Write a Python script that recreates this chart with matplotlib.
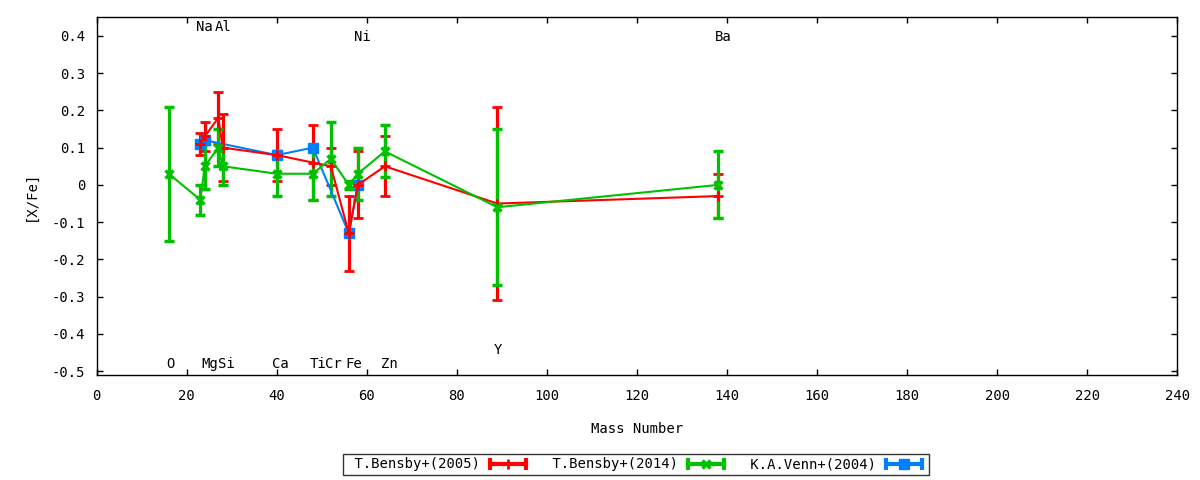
import matplotlib
matplotlib.use("Agg")
import matplotlib.pyplot as plt
from matplotlib.lines import Line2D
from matplotlib.legend_handler import HandlerLine2D, HandlerTuple

plt.rcParams["font.family"] = "DejaVu Sans Mono"
plt.rcParams["font.size"] = 10
plt.rcParams["axes.unicode_minus"] = False

# T.Bensby+(2005)
b05_mass = [23, 24, 27, 28, 40, 48, 52, 56, 58, 64, 89, 138]
b05_val = [0.11, 0.13, 0.18, 0.10, 0.08, 0.06, 0.05, -0.13, 0.00, 0.05, -0.05, -0.03]
b05_err = [0.03, 0.04, 0.07, 0.09, 0.07, 0.10, 0.05, 0.10, 0.09, 0.08, 0.26, 0.06]

# T.Bensby+(2014)
b14_mass = [16, 23, 24, 27, 28, 40, 48, 52, 56, 58, 64, 89, 138]
b14_val = [0.03, -0.04, 0.05, 0.10, 0.05, 0.03, 0.03, 0.07, 0.00, 0.03, 0.09, -0.06, 0.00]
b14_err = [0.18, 0.04, 0.06, 0.05, 0.05, 0.06, 0.07, 0.10, 0.01, 0.07, 0.07, 0.21, 0.09]

# K.A.Venn+(2004)
v04_mass = [23, 24, 40, 48, 56, 58]
v04_val = [0.11, 0.12, 0.08, 0.10, -0.13, 0.00]

# element labels (name, x, y)
top_labels = [("Na", 24.0, 0.424), ("Al", 28.0, 0.424), ("Ni", 59.1, 0.396), ("Ba", 139.1, 0.396)]
bottom_labels = [("O", 16.3, -0.48), ("Mg", 25.2, -0.48), ("Si", 28.9, -0.48),
                 ("Ca", 40.8, -0.48), ("Ti", 49.1, -0.48), ("Cr", 52.5, -0.48),
                 ("Fe", 57.0, -0.48), ("Zn", 65.0, -0.48), ("Y", 89.2, -0.443)]

RED = "#ff0000"
GREEN = "#00c000"
BLUE = "#0080ff"

fig = plt.figure(figsize=(12, 4.8), dpi=100)
ax = fig.add_axes([0.0806, 0.219, 0.9004, 0.745])

err_kw = dict(elinewidth=2.3, capsize=3.3, capthick=2.3, lw=1.5)
ax.errorbar(b05_mass, b05_val, yerr=b05_err, color=RED, marker="+", ms=7, mew=2, **err_kw)
ax.errorbar(b14_mass, b14_val, yerr=b14_err, color=GREEN, marker="x", ms=6, mew=2.5, **err_kw)
ax.plot(v04_mass, v04_val, color=BLUE, marker="s", ms=6.5, lw=1.5)

for name, x, y in top_labels + bottom_labels:
    ax.text(x, y, name, ha="center", va="center")

ax.set_xlim(0, 240)
ax.set_ylim(-0.51, 0.45)
ax.set_xticks(range(0, 241, 20))
ax.set_yticks([0.4, 0.3, 0.2, 0.1, 0, -0.1, -0.2, -0.3, -0.4, -0.5])
ax.yaxis.set_major_formatter(plt.FormatStrFormatter("%g"))
ax.tick_params(direction="in", top=True, right=True, length=4.5, width=1)
ax.tick_params(axis="x", pad=10)
ax.tick_params(axis="y", pad=8)
for sp in ax.spines.values():
    sp.set_linewidth(1)

ax.set_xlabel("Mass Number", labelpad=14)
ax.set_ylabel("[X/Fe]", labelpad=10)

# gnuplot-like legend samples: horizontal bar with end caps and centre marker
handles = []
hmap = {tuple: HandlerTuple(ndivide=1, pad=0)}
for col, mk, ms, mew in [(RED, "+", 7, 2), (GREEN, "x", 6, 2.5), (BLUE, "s", 6.5, 1)]:
    bar = Line2D([], [], color=col, lw=3, marker="|", ms=9, mew=3)
    mid = Line2D([], [], color=col, ls="none", marker=mk, ms=ms, mew=mew)
    hmap[bar] = HandlerLine2D(numpoints=2)
    hmap[mid] = HandlerLine2D(numpoints=1)
    handles.append((bar, mid))

labels = [" T.Bensby+(2005)", " T.Bensby+(2014)", " K.A.Venn+(2004)"]
leg = fig.legend(handles, labels, handler_map=hmap,
                 loc="center", bbox_to_anchor=(0.53, 0.0323), ncol=3, markerfirst=False,
                 frameon=True, fancybox=False, edgecolor="black", handlelength=3.2,
                 columnspacing=1.0, handletextpad=0.4, borderpad=0.25)
leg.get_frame().set_linewidth(1)

fig.savefig("out.png", dpi=100)
